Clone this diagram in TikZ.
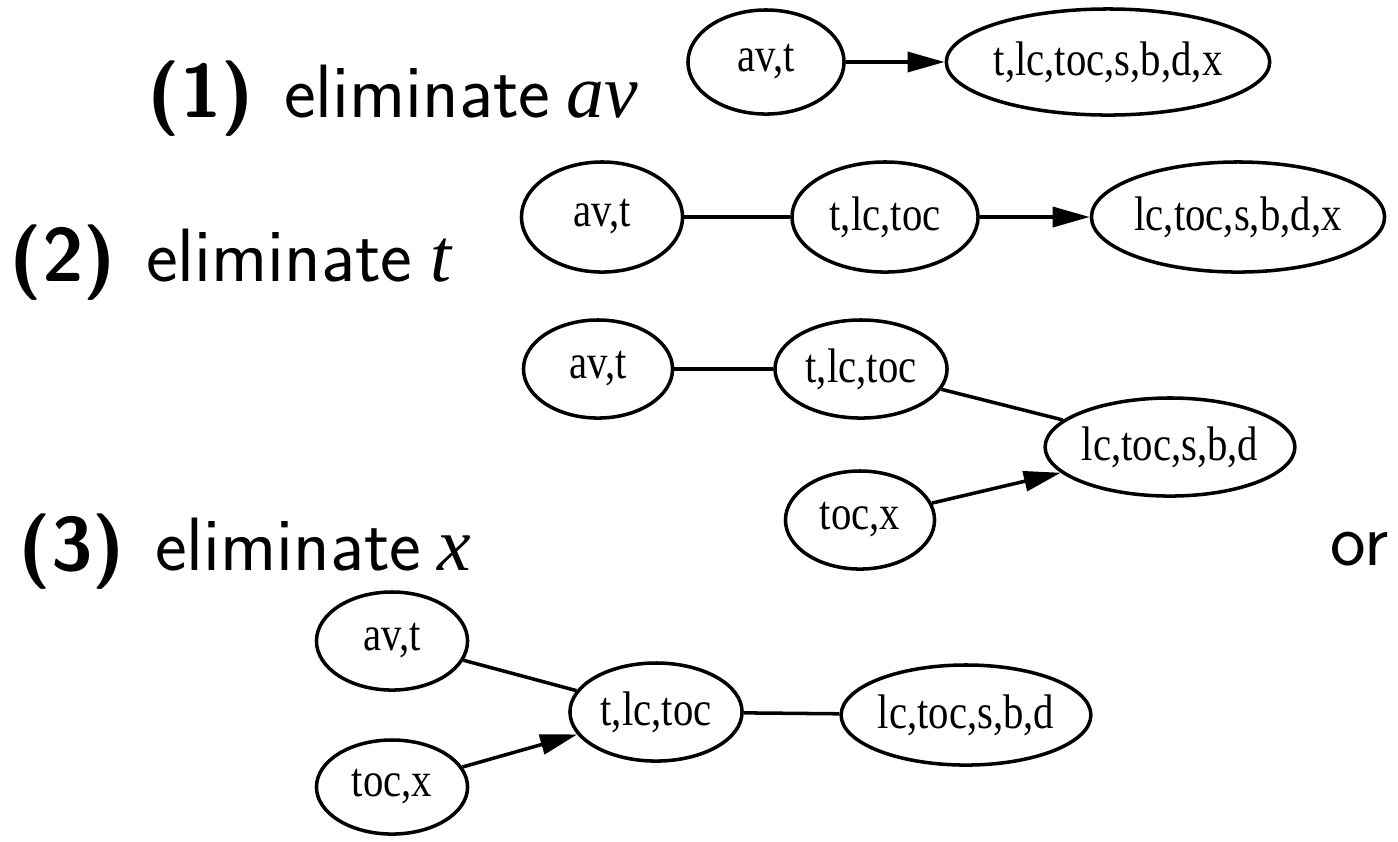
\documentclass[tikz,border=0pt]{standalone}
\usepackage{fontspec}
\usetikzlibrary{shapes.geometric,arrows.meta}
\newfontfamily\nodefont[FakeStretch=0.84]{Liberation Serif}
\newfontfamily\varfont{Liberation Serif}
\begin{document}
\begin{tikzpicture}[x=0.01cm,y=-0.01cm,
  cl/.style={draw, ellipse, line width=1pt, inner sep=0pt,
    font=\nodefont\fontsize{13.8}{15}\selectfont},
  edge/.style={line width=1pt},
  dir/.style={edge, -{Triangle[length=0.37cm,width=0.2cm]}},
  lbl/.style={anchor=base west, inner sep=0pt,
    font=\fontsize{21.5}{24}\selectfont}]
\useasboundingbox (0,0) rectangle (1398,841);

% step labels
\node[lbl] (l1) at (147,117)
  {\textsf{\textbf{(1)}}\hspace{0.3cm}\textsf{eliminate}\hspace{0.16cm}{\varfont\itshape av}};
\node[lbl] (l2) at (9,281)
  {\textsf{\textbf{(2)}}\hspace{0.3cm}\textsf{eliminate}\hspace{0.18cm}{\varfont\itshape t}};
\node[lbl] (l3) at (18,570)
  {\textsf{\textbf{(3)}}\hspace{0.3cm}\textsf{eliminate}\hspace{0.16cm}{\varfont\itshape x}};
\node[lbl] (or) at (1330,565) {\textsf{or}};

% (1)
\node[cl, minimum width=1.56cm, minimum height=1.04cm] (a1) at (766,62) {av,t};
\node[cl, minimum width=3.10cm, minimum height=1.06cm] (b1) at (1108,62) {t,lc,toc,s,b,d,x};
\draw[dir] (a1) -- (b1);

% (2)
\node[cl, minimum width=1.61cm, minimum height=1.10cm] (a2) at (602,217) {av,t};
\node[cl, minimum width=1.86cm, minimum height=1.10cm] (t2) at (885,217) {t,lc,toc};
\node[cl, minimum width=2.93cm, minimum height=1.10cm] (b2) at (1238,217) {lc,toc,s,b,d,x};
\draw[edge] (a2) -- (t2);
\draw[dir] (t2) -- (b2);

% (3)
\node[cl, minimum width=1.49cm, minimum height=0.98cm] (a3) at (598,369) {av,t};
\node[cl, minimum width=1.72cm, minimum height=0.98cm] (t3) at (861,369) {t,lc,toc};
\node[cl, minimum width=2.40cm, minimum height=0.98cm] (b3) at (1170,447) {lc,toc,s,b,d};
\node[cl, minimum width=1.49cm, minimum height=0.98cm] (x3) at (860,520) {toc,x};
\draw[edge] (a3) -- (t3);
\draw[edge] (t3) -- (b3);
\draw[dir] (x3) -- (b3);

% alternative
\node[cl, minimum width=1.51cm, minimum height=0.98cm] (a4) at (392,641) {av,t};
\node[cl, minimum width=1.72cm, minimum height=0.98cm] (t4) at (656,712) {t,lc,toc};
\node[cl, minimum width=2.38cm, minimum height=1.00cm] (b4) at (966,715) {lc,toc,s,b,d};
\node[cl, minimum width=1.51cm, minimum height=0.94cm] (x4) at (392,787) {toc,x};
\draw[edge] (a4) -- (t4);
\draw[dir] (x4) -- (t4);
\draw[edge] (t4) -- (b4);
\end{tikzpicture}
\end{document}
